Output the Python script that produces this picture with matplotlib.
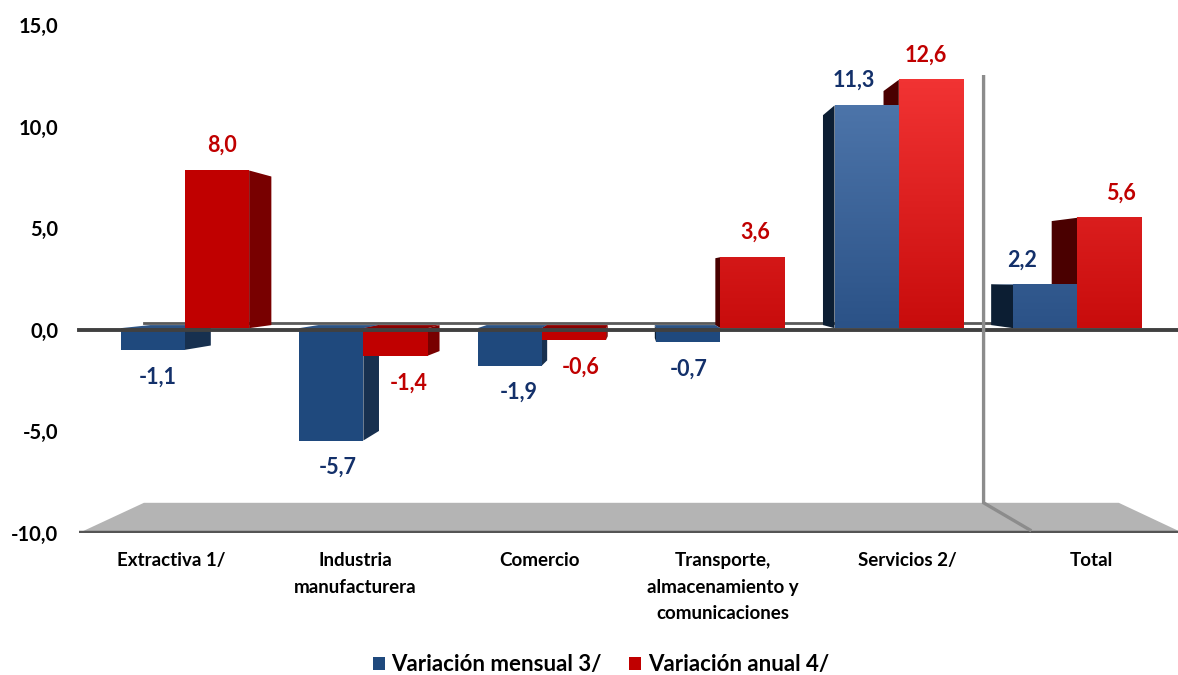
import numpy as np
import matplotlib
matplotlib.use('Agg')
import matplotlib.pyplot as plt
from matplotlib.patches import Polygon, Patch
from matplotlib.colors import LinearSegmentedColormap, Normalize

# Data
categories = ['Extractiva 1/', 'Industria\nmanufacturera', 'Comercio',
              'Transporte,\nalmacenamiento y\ncomunicaciones', 'Servicios 2/', 'Total']
mensual = [-1.1, -5.7, -1.9, -0.7, 11.3, 2.2]
anual = [8.0, -1.4, -0.6, 3.6, 12.6, 5.6]
yticks = [-10, -5, 0, 5, 10, 15]
series_names = ['Variación mensual 3/', 'Variación anual 4/']

# Style
plt.rcParams['font.family'] = ['Lato', 'DejaVu Sans']
plt.rcParams['font.weight'] = 'bold'

BLUE = dict(front='#1f497d', right='#17304f', left='#0c1e33', top='#2d5485',
            grad=('#2b5287', '#5179ae'), label='#13306a')
RED = dict(front='#c00000', right='#780000', left='#4a0000', top='#8a0000',
           grad=('#c80c0c', '#f23434'), label='#c00000')

# fake perspective: vanishing point and depth scales (data coords)
VX, VY = 2.516, 2.7
S_FRONT, S_BACK, S_FLOOR = 0.97, 0.914, 0.883
BAR_W = 0.36
PX = 1 / 1.389  # px -> points at dpi 100


def proj(x, y, s):
    return VX + (x - VX) * s, VY + (y - VY) * s


def draw_bar(ax, x0, x1, v, c, gradient):
    ylo, yhi = min(0, v), max(0, v)
    f = lambda x, y: proj(x, y, S_FRONT)
    b = lambda x, y: proj(x, y, S_BACK)
    fx0, fylo = f(x0, ylo)
    fx1, fyhi = f(x1, yhi)
    # side face
    if fx1 < VX:
        pts = [f(x1, ylo), b(x1, ylo), b(x1, yhi), f(x1, yhi)]
        ax.add_patch(Polygon(pts, closed=True, fc=c['right'], ec='none', zorder=2))
    elif fx0 > VX:
        pts = [f(x0, ylo), b(x0, ylo), b(x0, yhi), f(x0, yhi)]
        ax.add_patch(Polygon(pts, closed=True, fc=c['left'], ec='none', zorder=2))
    # top face
    if yhi < VY:
        pts = [f(x0, yhi), f(x1, yhi), b(x1, yhi), b(x0, yhi)]
        ax.add_patch(Polygon(pts, closed=True, fc=c['top'], ec='none', zorder=2.5))
    # front face
    if gradient:
        cmap = LinearSegmentedColormap.from_list('g', c['grad'])
        ys = np.linspace(fylo, fyhi, 64).reshape(-1, 1)
        ax.imshow(ys, extent=(fx0, fx1, fylo, fyhi), origin='lower', cmap=cmap,
                  norm=Normalize(0, 12.6), aspect='auto', zorder=3,
                  interpolation='bilinear')
    else:
        ax.add_patch(Polygon([(fx0, fylo), (fx1, fylo), (fx1, fyhi), (fx0, fyhi)],
                             closed=True, fc=c['front'], ec='none', zorder=3))
    return (fx0 + fx1) / 2, (fyhi if v >= 0 else fylo)


fig = plt.figure(figsize=(11.78, 6.75), dpi=100)
ax = fig.add_axes([75 / 1178, (675 - 533) / 675, 1 - 75 / 1178, (533 - 25) / 675])
xlim = ((75 - 171) / 184, (1178 - 171) / 184)

# floor
fl, fr = -0.5, 5.5
floor = [(fl, -10), (fr, -10), proj(fr, -10, S_FLOOR), proj(fl, -10, S_FLOOR)]
ax.add_patch(Polygon(floor, closed=True, fc='#b4b4b4', ec='none', zorder=1))
ax.plot([fl, fr], [-10, -10], color='#555555', lw=3.2, solid_capstyle='butt', zorder=1.2)

# zero plane lines
bx0, by0 = proj(fl, 0, S_FLOOR)
bx1, _ = proj(fr, 0, S_FLOOR)
ax.plot([bx0, bx1], [by0, by0], color='#5a5a5a', lw=2.0, zorder=1.5)
ax.plot([fl, fr], [0, 0], color='#404040', lw=2.8, zorder=4)

# separator between sectors and total
sep_x, sep_top = 4.668, 13.75
p_top = proj(sep_x, sep_top, S_FLOOR)
p_bot = proj(sep_x, -10, S_FLOOR)
ax.plot([p_top[0], p_bot[0], sep_x], [p_top[1], p_bot[1], -9.85],
        color='#8c8c8c', lw=2.4, zorder=4.5, solid_joinstyle='miter')

# bars
nudge_blue = [5, 7, 9, 0, -13, -23]
nudge_red = [5, 13, 7, 3, -5, 12]
for i, (vm, va) in enumerate(zip(mensual, anual)):
    for v, c, x0, x1, nud in ((vm, BLUE, i - BAR_W, i, nudge_blue[i]),
                              (va, RED, i, i + BAR_W, nudge_red[i])):
        grad = i >= 3 and v > 0
        cx, cy = draw_bar(ax, x0, x1, v, c, grad)
        off = 25 if v >= 0 else -27
        ax.annotate(f'{v:.1f}'.replace('.', ','), xy=(cx, cy),
                    xytext=(nud * PX, off * PX), textcoords='offset points',
                    ha='center', va='center', fontsize=15.5, fontweight='bold',
                    color=c['label'], zorder=6)

ax.set_xlim(*xlim)
ax.set_ylim(-10, 15)
ax.set_yticks(yticks)
ax.set_yticklabels([f'{t:.1f}'.replace('.', ',') for t in yticks],
                   fontsize=14.5, fontweight='bold')
ax.set_xticks(range(len(categories)))
ax.set_xticklabels(categories, fontsize=13.5, fontweight='bold', linespacing=1.65)
ax.tick_params(axis='y', length=0, pad=12)
ax.tick_params(axis='x', length=0, pad=14)
for sp in ax.spines.values():
    sp.set_visible(False)
ax.set_facecolor('none')

handles = [Patch(fc=BLUE['front'], ec='none'), Patch(fc=RED['front'], ec='none')]
fig.legend(handles, series_names, loc='lower center', bbox_to_anchor=(0.51, -0.03),
           ncol=2, frameon=False, prop={'size': 16, 'weight': 'bold'},
           handlelength=0.55, handleheight=0.55, handletextpad=0.3, columnspacing=1.2)

fig.savefig('out.png', dpi=100, facecolor='white')
